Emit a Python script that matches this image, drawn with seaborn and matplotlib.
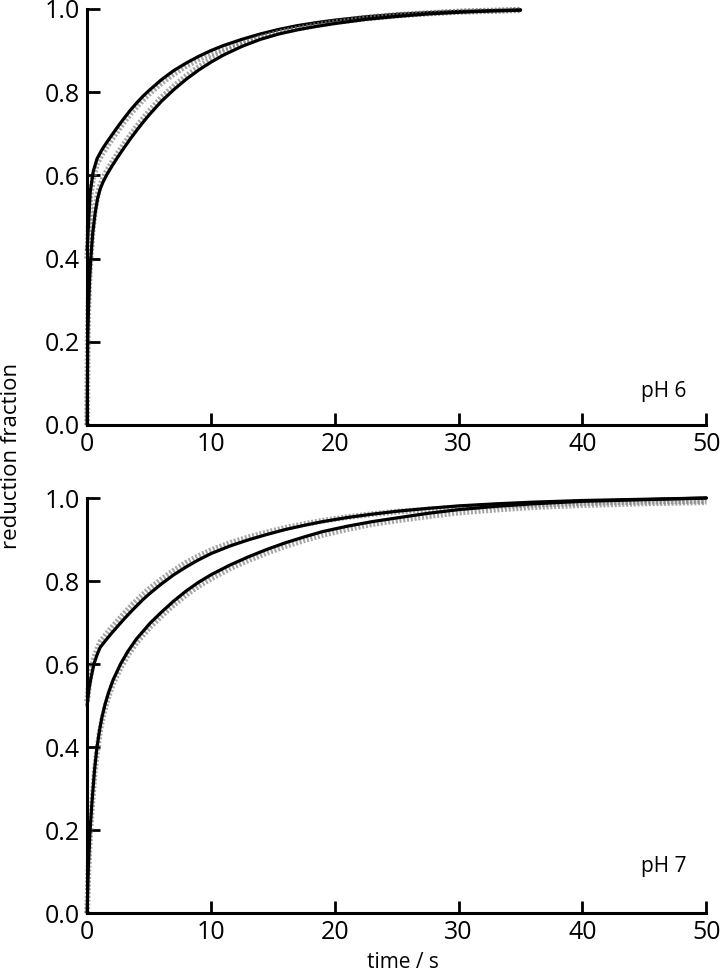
import matplotlib
matplotlib.use("Agg")
import matplotlib.pyplot as plt
import seaborn as sns
import pandas as pd

# ---- data ----
x_ticks = [0, 10, 20, 30, 40, 50]
y_ticks = [0.0, 0.2, 0.4, 0.6, 0.8, 1.0]

# pH 6, faster trace
t6a = [0, 0.25, 0.5, 0.8, 1.2, 1.6, 2, 2.5, 3, 3.5, 4, 4.5, 5, 6, 7, 8, 9, 10, 11,
       12.5, 14, 15.5, 17, 18.5, 20, 22.5, 25, 27.5, 30, 32.5, 35]
fit6a = [0.42, 0.56, 0.61, 0.64, 0.662, 0.68, 0.697, 0.718, 0.738, 0.757, 0.774,
         0.79, 0.804, 0.83, 0.852, 0.87, 0.886, 0.9, 0.912, 0.927, 0.94, 0.951,
         0.96, 0.967, 0.973, 0.981, 0.987, 0.991, 0.994, 0.996, 0.998]
dat6a = [0.40, 0.545, 0.597, 0.628, 0.651, 0.669, 0.687, 0.708, 0.729, 0.748,
         0.765, 0.781, 0.796, 0.822, 0.844, 0.863, 0.879, 0.893, 0.906, 0.921,
         0.935, 0.947, 0.956, 0.964, 0.97, 0.979, 0.986, 0.99, 0.994, 0.996, 0.998]
# pH 6, slower trace
t6b = [0, 0.05, 0.1, 0.2, 0.3, 0.45, 0.65, 0.85, 1.05, 1.3, 1.6, 2, 2.5, 3, 3.5,
       4, 4.5, 5, 6, 7, 8, 9, 10, 11, 12.5, 14, 15.5, 17, 18.5, 20, 22.5, 25,
       27.5, 30, 32.5, 35]
fit6b = [0, 0.2, 0.27, 0.35, 0.40, 0.46, 0.51, 0.545, 0.567, 0.585, 0.602, 0.622,
         0.645, 0.667, 0.688, 0.708, 0.727, 0.745, 0.778, 0.806, 0.831, 0.853,
         0.872, 0.889, 0.91, 0.927, 0.94, 0.95, 0.958, 0.965, 0.975, 0.982,
         0.988, 0.992, 0.995, 0.997]
dat6b = [0, 0.21, 0.28, 0.36, 0.41, 0.47, 0.52, 0.554, 0.576, 0.594, 0.611, 0.631,
         0.654, 0.676, 0.697, 0.717, 0.736, 0.754, 0.787, 0.814, 0.839, 0.86,
         0.879, 0.895, 0.915, 0.931, 0.944, 0.953, 0.961, 0.968, 0.977, 0.984,
         0.989, 0.993, 0.995, 0.997]

# pH 7, faster trace
t7a = [0, 0.15, 0.3, 0.55, 0.8, 1.05, 1.5, 2, 2.5, 3, 3.7, 4.5, 5.1, 6, 7, 8, 9,
       10, 11.5, 13, 14.5, 16, 17.5, 19, 21, 23, 25, 27.5, 30, 33, 36, 40, 45, 50]
fit7a = [0.5, 0.54, 0.565, 0.6, 0.622, 0.64, 0.657, 0.675, 0.692, 0.709, 0.731,
         0.755, 0.771, 0.793, 0.815, 0.834, 0.851, 0.866, 0.884, 0.899, 0.912,
         0.924, 0.934, 0.943, 0.953, 0.961, 0.968, 0.975, 0.981, 0.986, 0.99,
         0.994, 0.997, 1.0]
dat7a = [0.51, 0.552, 0.578, 0.613, 0.635, 0.653, 0.67, 0.688, 0.705, 0.722,
         0.744, 0.767, 0.783, 0.804, 0.825, 0.844, 0.86, 0.874, 0.891, 0.905,
         0.917, 0.928, 0.937, 0.945, 0.954, 0.961, 0.967, 0.972, 0.977, 0.981,
         0.984, 0.988, 0.991, 0.993]
# pH 7, slower trace
t7b = [0, 0.1, 0.24, 0.4, 0.6, 0.78, 1.0, 1.2, 1.45, 1.75, 2.1, 2.7, 3.3, 4, 5.1,
       6, 7, 8, 9, 10, 11.5, 13, 14.5, 16, 17.5, 19, 21, 23, 25, 27.5, 30, 33, 36,
       40, 45, 50]
fit7b = [0, 0.11, 0.2, 0.27, 0.345, 0.395, 0.44, 0.472, 0.503, 0.533, 0.562, 0.6,
         0.631, 0.661, 0.699, 0.725, 0.752, 0.776, 0.797, 0.815, 0.838, 0.858,
         0.876, 0.892, 0.906, 0.919, 0.932, 0.943, 0.952, 0.963, 0.972, 0.98,
         0.986, 0.992, 0.996, 1.0]
dat7b = [0, 0.1, 0.19, 0.26, 0.335, 0.385, 0.431, 0.463, 0.494, 0.524, 0.553,
         0.591, 0.622, 0.652, 0.69, 0.716, 0.743, 0.767, 0.788, 0.806, 0.83, 0.85,
         0.868, 0.884, 0.898, 0.911, 0.925, 0.937, 0.946, 0.956, 0.965, 0.972,
         0.978, 0.983, 0.987, 0.99]

panel_labels = ["pH 6", "pH 7"]
panel_traces = [
    [(t6a, fit6a, dat6a), (t6b, fit6b, dat6b)],
    [(t7a, fit7a, dat7a), (t7b, fit7b, dat7b)],
]
label_y = [0.055, 0.088]

# ---- style ----
sns.set_style("ticks")
plt.rcParams["font.family"] = ["Open Sans", "DejaVu Sans"]
plt.rcParams["text.color"] = "black"

fig = plt.figure(figsize=(7.2, 9.74), dpi=100)
axes = [
    fig.add_axes([0.121, 0.5637, 0.860, 0.4271]),
    fig.add_axes([0.121, 0.0626, 0.860, 0.4261]),
]

for ax, label, traces, ly in zip(axes, panel_labels, panel_traces, label_y):
    for t, fit, dat in traces:
        df = pd.DataFrame({"t": t, "fit": fit, "dat": dat})
        sns.lineplot(data=df, x="t", y="dat", ax=ax, color="0.5", lw=4.2,
                     alpha=0.7, linestyle=(0, (0.35, 0.3)), clip_on=False,
                     estimator=None, sort=False)
        sns.lineplot(data=df, x="t", y="fit", ax=ax, color="black", lw=2.3,
                     clip_on=False, estimator=None, sort=False)
    ax.set_xlim(0, 50)
    ax.set_ylim(0, 1.0)
    ax.set_xticks(x_ticks)
    ax.set_xticklabels([str(v) for v in x_ticks])
    ax.set_yticks(y_ticks)
    ax.set_yticklabels([f"{v:.1f}" for v in y_ticks])
    sns.despine(ax=ax)
    for s in ("left", "bottom"):
        ax.spines[s].set_linewidth(2.2)
        ax.spines[s].set_color("black")
    ax.tick_params(direction="in", length=9, width=2.0, labelsize=18,
                   color="black", labelcolor="black", pad=5)
    ax.set_xlabel("")
    ax.set_ylabel("")
    ax.text(48.4, ly, label, ha="right", va="bottom", fontsize=15,
            color="black")

fig.text(0.016, 1 - 456 / 974, "reduction fraction", rotation=90, ha="center",
         va="center", fontsize=16, color="black")
fig.text(0.56, 0.012, "time / s", ha="center", va="center", fontsize=15,
         color="black")

fig.savefig("out.png", dpi=100)
